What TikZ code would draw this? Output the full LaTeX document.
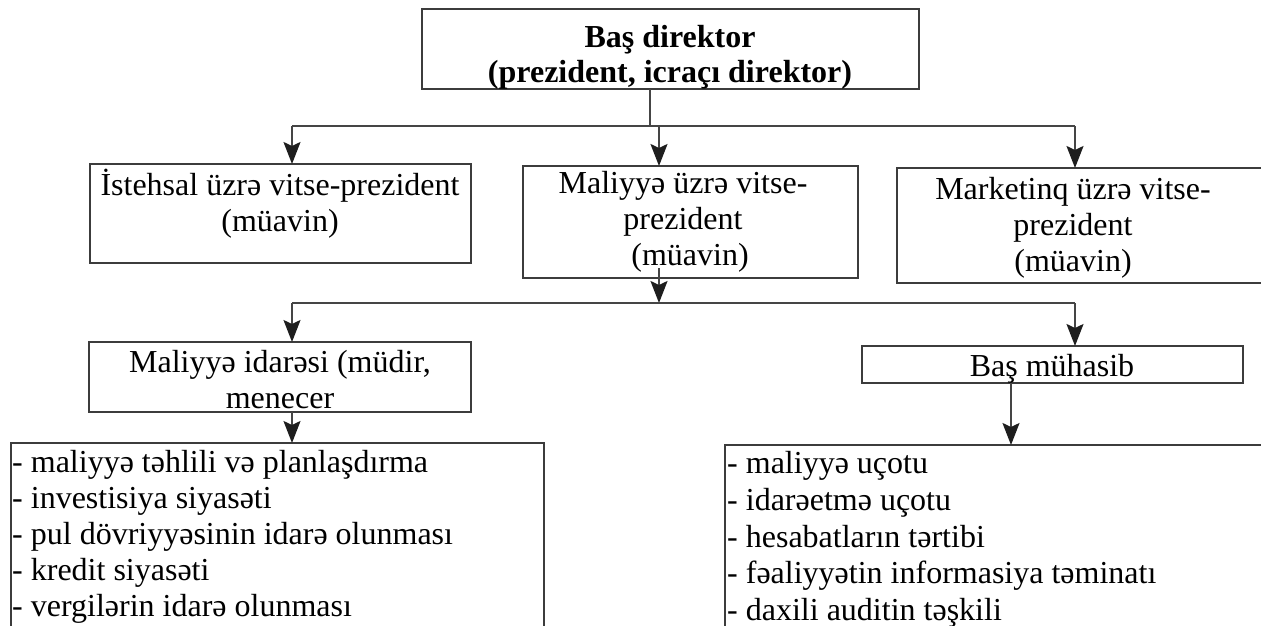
\documentclass[tikz,border=0pt]{standalone}
\usepackage{fontspec}
\setmainfont{Liberation Serif}
\usetikzlibrary{arrows.meta}
\definecolor{boxc}{HTML}{3C3C3C}
\definecolor{linec}{HTML}{454545}
\definecolor{tipc}{HTML}{1E1E1E}
\begin{document}
\begin{tikzpicture}[x=1pt,y=-1pt,
  box/.style={draw=boxc, line width=1.6pt, anchor=north west, inner sep=0pt, outer sep=0pt},
  txt/.style={inner sep=0pt, anchor=base, font=\fontsize{32}{36}\selectfont},
  txtl/.style={txt, anchor=base west},
  bold/.style={font=\fontsize{32}{36}\selectfont\bfseries},
  conn/.style={draw=linec, line width=1.8pt},
  arr/.style={conn, -{Stealth[length=22pt,width=17pt,inset=4pt,color=tipc]}}]
\useasboundingbox (0,0) rectangle (1261,626);
\clip (0,0) rectangle (1261,626);
\fill[white] (0,0) rectangle (1261,626);

% boxes
\node[box, minimum width=497pt, minimum height=80pt] (top) at (422,9) {};
\node[box, minimum width=381pt, minimum height=99pt] (lbox) at (90,164) {};
\node[box, minimum width=335pt, minimum height=112pt] (mbox) at (523,166) {};
\node[box, minimum width=420pt, minimum height=115pt] (rbox) at (897,168) {};
\node[box, minimum width=382pt, minimum height=70pt] (fin) at (89,342) {};
\node[box, minimum width=381pt, minimum height=37pt] (bas) at (862,346) {};
\node[box, minimum width=533pt, minimum height=260pt] (listL) at (11,443) {};
\node[box, minimum width=600pt, minimum height=260pt] (listR) at (725,445) {};

% texts
\node[txt, bold] (t1) at (670,48) {Baş direktor};
\node[txt, bold] (t2) at (670,82) {(prezident, icraçı direktor)};

\node[txt] (l1) at (280,195) {İstehsal üzrə vitse-prezident};
\node[txt] (l2) at (280,231) {(müavin)};

\node[txt] (m1) at (683,193) {Maliyyə üzrə vitse-};
\node[txt] (m2) at (683,229) {prezident};
\node[txt] (m3) at (690,265) {(müavin)};

\node[txt] (r1) at (1073,199) {Marketinq üzrə vitse-};
\node[txt] (r2) at (1073,235) {prezident};
\node[txt] (r3) at (1073,271) {(müavin)};

\node[txt] (f1) at (280,372) {Maliyyə idarəsi (müdir,};
\node[txt] (f2) at (280,408) {menecer};

\node[txt] (b1) at (1052,376) {Baş mühasib};

\node[txtl] (a1) at (12,472) {- maliyyə təhlili və planlaşdırma};
\node[txtl] (a2) at (12,508) {- investisiya siyasəti};
\node[txtl] (a3) at (12,544) {- pul dövriyyəsinin idarə olunması};
\node[txtl] (a4) at (12,580) {- kredit siyasəti};
\node[txtl] (a5) at (12,616) {- vergilərin idarə olunması};

\node[txtl] (c1) at (727,473) {- maliyyə uçotu};
\node[txtl] (c2) at (727,510) {- idarəetmə uçotu};
\node[txtl] (c3) at (727,547) {- hesabatların tərtibi};
\node[txtl] (c4) at (727,583) {- fəaliyyətin informasiya təminatı};
\node[txtl] (c5) at (727,620) {- daxili auditin təşkili};

% connector points
\coordinate (j0) at (650,126);
\coordinate (hL) at (292,126);
\coordinate (hM) at (659,126);
\coordinate (hR) at (1075,126);
\coordinate (kL) at (292,303);
\coordinate (kM) at (659,303);
\coordinate (kR) at (1075,303);
\coordinate (kB) at (1011,0);

\draw[conn] (top.south -| j0) -- (j0);
\draw[conn] (hL) -- (hR);
\draw[arr] (hL) -- (hL |- lbox.north);
\draw[arr] (hM) -- (hM |- mbox.north);
\draw[arr] (hR) -- (hR |- rbox.north);

\draw[arr] ([yshift=10pt]mbox.south -| kM) -- (kM);
\draw[conn] (kL) -- (kR);
\draw[arr] (kL) -- (kL |- fin.north);
\draw[arr] (kR) -- (kR |- bas.north);

\draw[arr] (fin.south -| kL) -- (kL |- listL.north);
\draw[arr] (bas.south -| kB) -- (kB |- listR.north);
\end{tikzpicture}
\end{document}
